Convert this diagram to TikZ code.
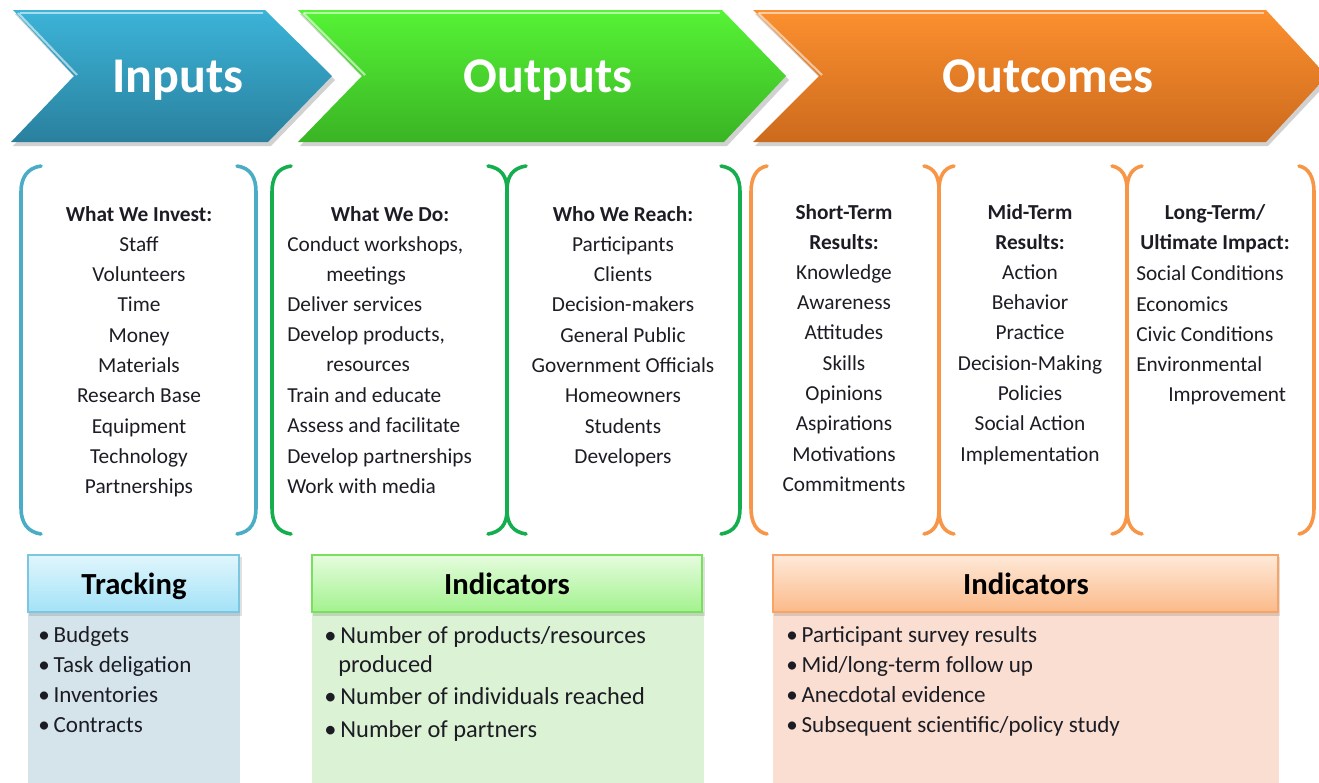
\documentclass[tikz,border=0pt]{standalone}
\usepackage{fontspec}
\setmainfont{Carlito}
\definecolor{inT}{HTML}{3CB4D8}
\definecolor{inB}{HTML}{2A809E}
\definecolor{outT}{HTML}{56F336}
\definecolor{outB}{HTML}{3AB424}
\definecolor{ocT}{HTML}{FC902F}
\definecolor{ocB}{HTML}{CC6A1D}
\definecolor{brBlue}{HTML}{4BACC6}
\definecolor{brGreen}{HTML}{14AE4E}
\definecolor{brOrange}{HTML}{F79646}
\definecolor{txt}{HTML}{1C1C24}
\definecolor{trT}{HTML}{E0F6FD}
\definecolor{trB}{HTML}{A3E2F7}
\definecolor{trD}{HTML}{7CC7DF}
\definecolor{trBody}{HTML}{D5E4EA}
\definecolor{gnT}{HTML}{E6FCDE}
\definecolor{gnB}{HTML}{A2F28E}
\definecolor{gnD}{HTML}{7ADF5C}
\definecolor{gnBody}{HTML}{DBF2D4}
\definecolor{orT}{HTML}{FEE9D9}
\definecolor{orB}{HTML}{FBBA89}
\definecolor{orD}{HTML}{F8A466}
\definecolor{orBody}{HTML}{FADED2}
\tikzset{
  bigtitle/.style={anchor=base, text=white, font=\fontsize{37.5}{40}\selectfont\bfseries, inner sep=0pt},
  coltext/.style={anchor=base, text=txt, font=\fontsize{16}{19}\selectfont, inner sep=0pt},
  colhead/.style={coltext, font=\fontsize{16}{19}\selectfont\bfseries},
  lefttext/.style={coltext, anchor=base west},
  brace/.style={line width=2.7pt, line cap=round},
  boxhead/.style={anchor=base, text=black, font=\fontsize{23}{26}\selectfont\bfseries, inner sep=0pt},
  bul/.style={anchor=base west, text=txt, font=\fontsize{17.3}{20}\selectfont, inner sep=0pt},
  bulg/.style={bul, font=\fontsize{18.3}{21}\selectfont},
  hilite/.style={white, opacity=0.55, line width=1.6pt},
}
\begin{document}
\begin{tikzpicture}[x=0.75pt,y=-0.75pt]
\useasboundingbox (0,0) rectangle (1319,782);
\begin{scope}
\clip (0,0) rectangle (1319,782);
% ---------- chevrons: shadows ----------
\fill[black, opacity=0.18] (15,14) -- (267,14) -- (335,80) -- (271,146) -- (13,146) -- (77,80) -- cycle;
\fill[black, opacity=0.18] (300,14) -- (724,14) -- (789,80) -- (727,146) -- (300,146) -- (365,80) -- cycle;
\fill[black, opacity=0.18] (755,14) -- (1268,14) -- (1330,80) -- (1268,146) -- (755,146) -- (822,80) -- cycle;
% ---------- chevrons ----------
\shade[top color=inT, bottom color=inB] (13,10) -- (265,10) -- (332,76) -- (268,142) -- (11,142) -- (74,76) -- cycle;
\shade[top color=outT, bottom color=outB] (298,10) -- (722,10) -- (786,76) -- (724,142) -- (298,142) -- (362,76) -- cycle;
\shade[top color=ocT, bottom color=ocB] (753,10) -- (1266,10) -- (1327,76) -- (1266,142) -- (753,142) -- (819,76) -- cycle;
% highlights
\draw[hilite] (20,13) -- (263,13);
\draw[hilite] (18,13) -- (77,75);
\draw[hilite] (304,13) -- (720,13);
\draw[hilite] (303,13) -- (365,75);
\draw[hilite] (759,13) -- (1264,13);
\draw[hilite] (758,13) -- (822,75);
\node[bigtitle] (tIn) at (178,92) {Inputs};
\node[bigtitle] (tOut) at (548,92) {Outputs};
\node[bigtitle] (tOc) at (1048,92) {Outcomes};
% ---------- brackets ----------
% blue
\draw[brace, brBlue] (41,166) .. controls (27,168) and (21,178) .. (21,192) -- (21,508) .. controls (21,522) and (27,532) .. (41,534);
\draw[brace, brBlue] (237,166) .. controls (251,168) and (256,178) .. (256,192) -- (256,508) .. controls (256,522) and (251,532) .. (237,534);
% green
\draw[brace, brGreen] (291,166) .. controls (277,168) and (272,178) .. (272,192) -- (272,508) .. controls (272,522) and (277,532) .. (291,534);
\draw[brace, brGreen] (488,166) .. controls (501,168) and (507,176) .. (507,190) -- (507,510) .. controls (507,524) and (501,532) .. (488,534);
\draw[brace, brGreen] (526,166) .. controls (513,168) and (507,176) .. (507,190);
\draw[brace, brGreen] (526,534) .. controls (513,532) and (507,524) .. (507,510);
\draw[brace, brGreen] (721,166) .. controls (735,168) and (740,178) .. (740,192) -- (740,508) .. controls (740,522) and (735,532) .. (721,534);
% orange
\draw[brace, brOrange] (767,166) .. controls (756,168) and (751,178) .. (751,192) -- (751,508) .. controls (751,522) and (756,532) .. (767,534);
\draw[brace, brOrange] (924,166) .. controls (934,168) and (939,176) .. (939,190) -- (939,510) .. controls (939,524) and (934,532) .. (924,534);
\draw[brace, brOrange] (954,166) .. controls (944,168) and (939,176) .. (939,190);
\draw[brace, brOrange] (954,534) .. controls (944,532) and (939,524) .. (939,510);
\draw[brace, brOrange] (1112,166) .. controls (1122,168) and (1127,176) .. (1127,190) -- (1127,510) .. controls (1127,524) and (1122,532) .. (1112,534);
\draw[brace, brOrange] (1142,166) .. controls (1132,168) and (1127,176) .. (1127,190);
\draw[brace, brOrange] (1142,534) .. controls (1132,532) and (1127,524) .. (1127,510);
\draw[brace, brOrange] (1299,166) .. controls (1309,168) and (1314,178) .. (1314,192) -- (1314,508) .. controls (1314,522) and (1309,532) .. (1299,534);
% ---------- column 1 ----------
\node[colhead] (c1h) at (139,221) {What We Invest:};
\foreach \t [count=\i] in {Staff,Volunteers,Time,Money,Materials,Research Base,Equipment,Technology,Partnerships}
  \node[coltext] (c1-\i) at (139,{221+30.3*\i}) {\t};
% ---------- column 2 ----------
\node[colhead] (c2h) at (390,221) {What We Do:};
\node[lefttext] (c2-1) at (287,251) {Conduct workshops,};
\node[lefttext] (c2-2) at (326,281) {meetings};
\node[lefttext] (c2-3) at (287,311) {Deliver services};
\node[lefttext] (c2-4) at (287,341) {Develop products,};
\node[lefttext] (c2-5) at (326,371) {resources};
\node[lefttext] (c2-6) at (287,402) {Train and educate};
\node[lefttext] (c2-7) at (287,432) {Assess and facilitate};
\node[lefttext] (c2-8) at (287,463) {Develop partnerships};
\node[lefttext] (c2-9) at (287,493) {Work with media};
% ---------- column 3 ----------
\node[colhead] (c3h) at (623,221) {Who We Reach:};
\foreach \t [count=\i] in {Participants,Clients,Decision-makers,General Public,Government Officials,Homeowners,Students,Developers}
  \node[coltext] (c3-\i) at (623,{221+30.3*\i}) {\t};
% ---------- column 4 ----------
\node[colhead] (c4h) at (844,219) {Short-Term};
\node[colhead] (c4r) at (844,249) {Results:};
\foreach \t [count=\i] in {Knowledge,Awareness,Attitudes,Skills,Opinions,Aspirations,Motivations,Commitments}
  \node[coltext] (c4-\i) at (844,{249+30.3*\i}) {\t};
% ---------- column 5 ----------
\node[colhead] (c5h) at (1030,219) {Mid-Term};
\node[colhead] (c5r) at (1030,249) {Results:};
\foreach \t [count=\i] in {Action,Behavior,Practice,Decision-Making,Policies,Social Action,Implementation}
  \node[coltext] (c5-\i) at (1030,{249+30.3*\i}) {\t};
% ---------- column 6 ----------
\node[colhead] (c6h) at (1215,219) {Long-Term/};
\node[colhead] (c6r) at (1215,249) {Ultimate Impact:};
\node[lefttext] (c6-1) at (1136,280) {Social Conditions};
\node[lefttext] (c6-2) at (1136,311) {Economics};
\node[lefttext] (c6-3) at (1136,341) {Civic Conditions};
\node[lefttext] (c6-4) at (1136,371) {Environmental};
\node[lefttext] (c6-5) at (1168,401) {Improvement};
% ---------- bottom boxes ----------
% Tracking
\fill[trBody] (28,612) rectangle (240,790);
\fill[black, opacity=0.12] (29,557) rectangle (242,616);
\shade[top color=trT, bottom color=trB, draw=trD, line width=0.8pt] (28,555) rectangle (239,612);
\node[boxhead] (bTr) at (134,594) {Tracking};
\node[bul] (bTr1) at (38,642) {\textbullet\,Budgets};
\node[bul] (bTr2) at (38,672) {\textbullet\,Task deligation};
\node[bul] (bTr3) at (38,702) {\textbullet\,Inventories};
\node[bul] (bTr4) at (38,732) {\textbullet\,Contracts};
% Green indicators
\fill[gnBody] (312,612) rectangle (704,790);
\fill[black, opacity=0.12] (313,557) rectangle (705,616);
\shade[top color=gnT, bottom color=gnB, draw=gnD, line width=0.8pt] (312,555) rectangle (702,612);
\node[boxhead] (bGn) at (507,594) {Indicators};
\node[bulg] (bGn1) at (324,643) {\textbullet\,Number of products/resources};
\node[bulg] (bGn2) at (338,672) {produced};
\node[bulg] (bGn3) at (324,704) {\textbullet\,Number of individuals reached};
\node[bulg] (bGn4) at (324,737) {\textbullet\,Number of partners};
% Orange indicators
\fill[orBody] (773,612) rectangle (1279,790);
\fill[black, opacity=0.12] (774,557) rectangle (1280,616);
\shade[top color=orT, bottom color=orB, draw=orD, line width=0.8pt] (773,555) rectangle (1278,612);
\node[boxhead] (bOr) at (1026,594) {Indicators};
\node[bul] (bOr1) at (786,642) {\textbullet\,Participant survey results};
\node[bul] (bOr2) at (786,672) {\textbullet\,Mid/long-term follow up};
\node[bul] (bOr3) at (786,702) {\textbullet\,Anecdotal evidence};
\node[bul] (bOr4) at (786,732) {\textbullet\,Subsequent scientific/policy study};
\end{scope}
\end{tikzpicture}
\end{document}
